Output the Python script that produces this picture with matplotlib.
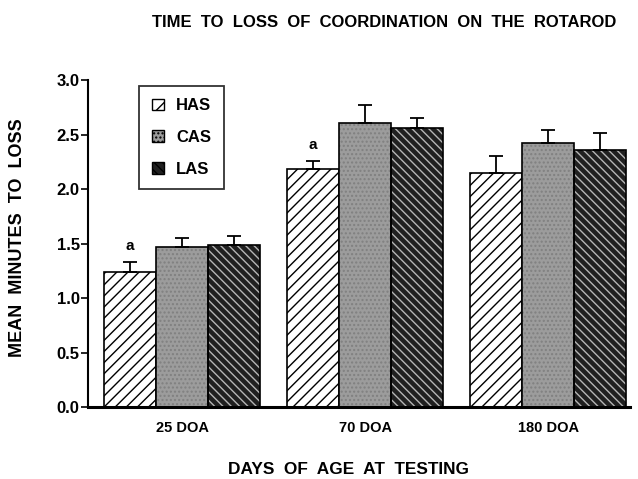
import numpy as np
import matplotlib.pyplot as plt
from matplotlib.patches import Patch

# ----------------- data -----------------
groups = ['25 DOA', '70 DOA', '180 DOA']
series = ['HAS', 'CAS', 'LAS']
has_mean = [1.24, 2.18, 2.15]
cas_mean = [1.47, 2.61, 2.42]
las_mean = [1.49, 2.56, 2.36]
has_err = [0.09, 0.08, 0.15]
cas_err = [0.08, 0.16, 0.12]
las_err = [0.08, 0.09, 0.15]
sig_marks = ['a', 'a', '']   # letters above the HAS bars

plt.rcParams['font.family'] = ['Liberation Sans', 'DejaVu Sans']
plt.rcParams['hatch.linewidth'] = 1.0

fig = plt.figure(figsize=(6.38, 4.79), dpi=100)
ax = fig.add_axes([0.138, 0.150, 0.850, 0.683])

x = np.arange(len(groups))
w = 0.284
offsets = [-w, 0, w]
means = [has_mean, cas_mean, las_mean]
errs = [has_err, cas_err, las_err]

# ----------------- bars -----------------
# HAS: white with black diagonal lines
ax.bar(x + offsets[0], has_mean, w, facecolor='white', edgecolor='black',
       hatch='///', linewidth=1.2, zorder=2)
# CAS: stippled grey
ax.bar(x + offsets[1], cas_mean, w, facecolor='#9c9c9c', edgecolor='#808080',
       hatch='....', linewidth=0, zorder=2)
ax.bar(x + offsets[1], cas_mean, w, fill=False, edgecolor='black',
       linewidth=1.2, zorder=3)
# LAS: dark with fine light stripes
ax.bar(x + offsets[2], las_mean, w, facecolor='#202020', edgecolor='#b5b5b5',
       hatch='\\\\\\\\', linewidth=0, zorder=2)
ax.bar(x + offsets[2], las_mean, w, fill=False, edgecolor='black',
       linewidth=1.2, zorder=3)

# upper error bars only
for off, m, e in zip(offsets, means, errs):
    ax.errorbar(x + off, m, yerr=[np.zeros(len(m)), e], fmt='none',
                ecolor='black', elinewidth=1.3, capsize=5, capthick=1.3,
                zorder=4)

# significance letters
for xi, m, e, s in zip(x, has_mean, has_err, sig_marks):
    if s:
        ax.text(xi + offsets[0], m + e + 0.08, s, ha='center', va='bottom',
                fontsize=11, fontweight='bold')

# ----------------- axes -----------------
ax.set_xlim(-0.514, 2.448)
ax.set_ylim(0, 3.0)
ax.set_yticks(np.arange(0, 3.01, 0.5))
ax.set_yticklabels([f'{v:.1f}' for v in np.arange(0, 3.01, 0.5)],
                   fontsize=12, fontweight='bold')
ax.set_xticks(x)
ax.set_xticklabels(groups, fontsize=10.5, fontweight='bold')
ax.tick_params(axis='x', length=0, pad=10)
ax.tick_params(axis='y', length=5, width=1.2, pad=1)
for side in ['top', 'right']:
    ax.spines[side].set_visible(False)
ax.spines['left'].set_linewidth(1.5)
ax.spines['bottom'].set_linewidth(2.2)

# ----------------- legend -----------------
handles = [
    Patch(facecolor='white', edgecolor='black', hatch='//', linewidth=1.0),
    Patch(facecolor='#9c9c9c', edgecolor='black', hatch='....', linewidth=1.0),
    Patch(facecolor='#202020', edgecolor='black', hatch='\\\\\\\\', linewidth=1.0),
]
leg = ax.legend(handles, series, loc='upper left',
                bbox_to_anchor=(0.094, 0.982), borderaxespad=0,
                frameon=True, fancybox=False, edgecolor='black',
                handlelength=0.72, handleheight=0.72,
                labelspacing=1.0, borderpad=0.75, handletextpad=0.75,
                prop={'weight': 'bold', 'size': 12})
leg.get_frame().set_linewidth(1.3)

# ----------------- titles -----------------
fig.text(0.602, 0.953, 'TIME  TO  LOSS  OF  COORDINATION  ON  THE  ROTAROD',
         ha='center', va='center', fontsize=12, fontweight='bold')
fig.text(0.028, 0.503, 'MEAN  MINUTES  TO  LOSS', rotation=90, ha='center',
         va='center', fontsize=13, fontweight='bold')
fig.text(0.547, 0.019, 'DAYS  OF  AGE  AT  TESTING', ha='center', va='center',
         fontsize=12.4, fontweight='bold')

fig.savefig('out.png', dpi=100)
